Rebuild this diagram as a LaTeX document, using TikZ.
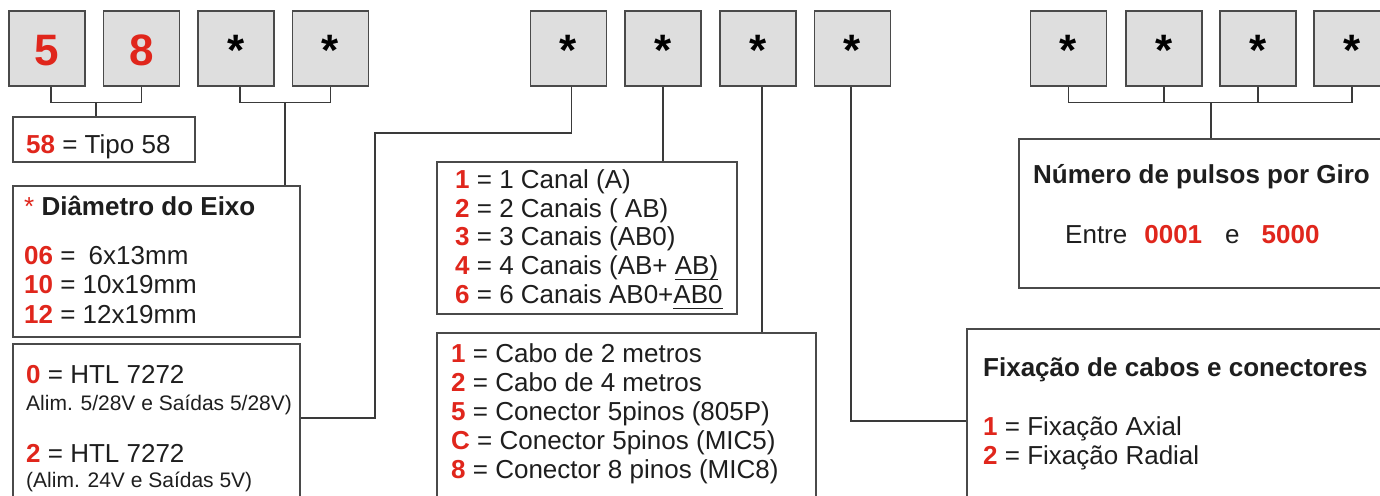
\documentclass[tikz,border=0pt]{standalone}
\usepackage{fontspec}
\setmainfont{Liberation Sans}
\definecolor{myred}{HTML}{E0261C}
\definecolor{boxfill}{HTML}{DEDEDE}
\definecolor{boxline}{HTML}{4A4A4A}
\definecolor{lineclr}{HTML}{3A3A3A}
\definecolor{txtclr}{HTML}{1E1E1E}
\newcommand\rb[1]{\textcolor{myred}{\bfseries #1}}
\newcommand\ulx[1]{\setbox0\hbox{#1}\rlap{\rule[-6pt]{\wd0}{1.3pt}}\box0}
\tikzset{
  digitbox/.style={draw=boxline, fill=boxfill, line width=1.2pt, minimum width=76pt, minimum height=75pt,
    inner sep=0pt, text height=35pt, text depth=0pt, font=\fontsize{44}{44}\selectfont\bfseries},
  infobox/.style={draw=boxline, fill=white, line width=1.2pt, inner sep=0pt},
  txt/.style={anchor=base west, inner sep=0pt, text=txtclr, font=\fontsize{26}{30}\selectfont},
  smalltxt/.style={txt, font=\fontsize{21}{24}\selectfont},
  conn/.style={draw=lineclr, line width=1.1pt},
}
\begin{document}
\begin{tikzpicture}[x=1pt, y=-1pt]
\useasboundingbox (0,0) rectangle (1380,495);
\clip (0,0) rectangle (1380,495);
% top digit boxes
\node[digitbox, text=myred] (b1) at (47,48.5) {5};
\node[digitbox, text=myred] (b2) at (141.5,48.5) {8};
\node[digitbox] (b3) at (236,48.5) {*};
\node[digitbox] (b4) at (330.5,48.5) {*};
\node[digitbox] (b5) at (568.5,48.5) {*};
\node[digitbox] (b6) at (663,48.5) {*};
\node[digitbox] (b7) at (758,48.5) {*};
\node[digitbox] (b8) at (852.5,48.5) {*};
\node[digitbox] (b9) at (1068.5,48.5) {*};
\node[digitbox] (b10) at (1164,48.5) {*};
\node[digitbox] (b11) at (1258,48.5) {*};
\node[digitbox] (b12) at (1352,48.5) {*};
% info boxes
\node[infobox, minimum width=182pt, minimum height=45pt] (tipo) at (104,139.5) {};
\node[infobox, minimum width=287pt, minimum height=151pt] (diam) at (156.5,261.5) {};
\node[infobox, minimum width=287pt, minimum height=166pt] (htl) at (156.5,427) {};
\node[infobox, minimum width=300pt, minimum height=152pt] (canal) at (587,238) {};
\node[infobox, minimum width=379pt, minimum height=177pt] (cabo) at (626.5,421.5) {};
\node[infobox, minimum width=381pt, minimum height=149pt] (pulsos) at (1209.5,213.5) {};
\node[infobox, minimum width=433pt, minimum height=181pt] (fix) at (1183.5,419.5) {};
% connectors
\coordinate (j12) at (96,102);
\coordinate (j34) at (285,102);
\coordinate (k5) at (375,133);
\coordinate (j9) at (1211,102);
\draw[conn] ([xshift=4pt]b1.south) -- ++(0,16) -| (b2.south);
\draw[conn] (j12) -- (j12 |- tipo.north);
\draw[conn] ([xshift=4pt]b3.south) -- ++(0,16) -| (b4.south);
\draw[conn] (j34) -- (j34 |- diam.north);
\draw[conn] ([xshift=3pt]b5.south) |- (k5) |- ([yshift=9pt]htl.east);
\draw[conn] (b6.south) -- (b6.south |- canal.north);
\draw[conn] ([xshift=4pt]b7.south) -- ([xshift=4pt]b7.south |- cabo.north);
\draw[conn] ([xshift=-1.5pt]b8.south) |- ([yshift=-1.5pt]fix.west);
\draw[conn] (b9.south) -- ++(0,16) -| (b12.south);
\draw[conn] (b10.south) -- ++(0,16);
\draw[conn] (b11.south) -- ++(0,16);
\draw[conn] (j9) -- (j9 |- pulsos.north);
% texts: tipo
\node[txt] (tipoT) at (26,153) {\rb{58} = Tipo 58};
% diametro
\node[txt] (diamT) at (24,215) {\textcolor{myred}{*} \textbf{Diâmetro do Eixo}};
\node[txt] (diam1) at (24,264) {\rb{06} = \hspace{6pt}6x13mm};
\node[txt] (diam2) at (24,293) {\rb{10} = 10x19mm};
\node[txt] (diam3) at (24,323) {\rb{12} = 12x19mm};
% htl
\node[txt] (htl1) at (26,383) {\rb{0} = HTL 7272};
\node[smalltxt] (htl2) at (26,410) {Alim. 5/28V e Saídas 5/28V)};
\node[txt] (htl3) at (26,462) {\rb{2} = HTL 7272};
\node[smalltxt] (htl4) at (26,487) {(Alim. 24V e Saídas 5V)};
% canal
\node[txt] (can1) at (455,188) {\rb{1} = 1 Canal (A)};
\node[txt] (can2) at (455,217) {\rb{2} = 2 Canais ( AB)};
\node[txt] (can3) at (455,245) {\rb{3} = 3 Canais (AB0)};
\node[txt] (can4) at (455,274) {\rb{4} = 4 Canais (AB+ \ulx{AB)}};
\node[txt] (can6) at (455,303) {\rb{6} = 6 Canais AB0+\ulx{AB0}};
% cabo
\node[txt] (cab1) at (451,362) {\rb{1} = Cabo de 2 metros};
\node[txt] (cab2) at (451,391) {\rb{2} = Cabo de 4 metros};
\node[txt] (cab5) at (451,420) {\rb{5} = Conector 5pinos (805P)};
\node[txt] (cabC) at (451,449) {\rb{C} = Conector 5pinos (MIC5)};
\node[txt] (cab8) at (451,478) {\rb{8} = Conector 8 pinos (MIC8)};
% pulsos
\node[txt] (pulT) at (1033,183) {\textbf{Número de pulsos por Giro}};
\node[txt] (pulE) at (1065,243) {Entre\hspace{17pt}\rb{0001}\hspace{23pt}e\hspace{22pt}\rb{5000}};
% fixacao
\node[txt] (fixT) at (983,376) {\textbf{Fixação de cabos e conectores}};
\node[txt] (fix1) at (983,435) {\rb{1} = Fixação Axial};
\node[txt] (fix2) at (983,464) {\rb{2} = Fixação Radial};
\end{tikzpicture}
\end{document}
